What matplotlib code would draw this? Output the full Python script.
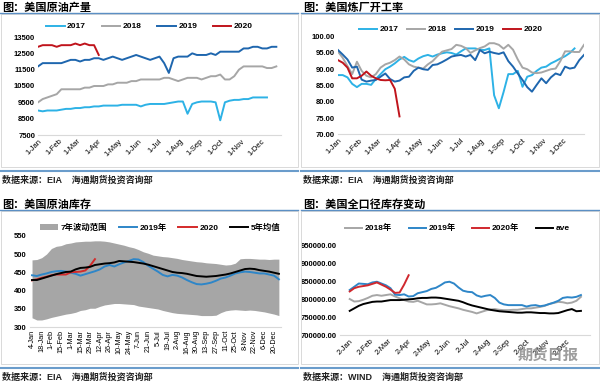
import numpy as np
import matplotlib
matplotlib.use("Agg")
import matplotlib.pyplot as plt
from matplotlib.patches import Rectangle
from matplotlib.lines import Line2D

plt.rcParams['font.family'] = ['Liberation Sans', 'Noto Sans CJK SC']

#%% data
# panel 1: US crude production (kb/d), weekly
prod_2017 = [9000, 8950, 9000, 9000, 9000, 9050, 9100, 9100, 9150, 9150, 9200, 9200, 9250, 9250,
             9300, 9300, 9300, 9300, 9350, 9350, 9350, 9350, 9250, 9350, 9400, 9400, 9400, 9400,
             9450, 9500, 9550, 9550, 8800, 9400, 9500, 9550, 9550, 9550, 9500, 8400, 9500, 9600,
             9650, 9650, 9700, 9700, 9800, 9800, 9800, 9800]
prod_2018 = [9500, 9700, 9800, 9900, 10000, 10300, 10300, 10300, 10300, 10300, 10400, 10400, 10500,
             10500, 10500, 10600, 10600, 10700, 10700, 10700, 10800, 10800, 10900, 10900, 10900,
             10900, 10900, 11000, 11000, 10900, 10800, 10900, 11000, 11000, 11000, 10900, 11000,
             11100, 11100, 11200, 10900, 10900, 11100, 11500, 11700, 11700, 11700, 11700, 11700,
             11600, 11600, 11700]
prod_2019 = [11700, 11900, 11900, 11900, 11900, 11900, 12000, 12100, 12100, 12000, 12100, 12100,
             12200, 12200, 12100, 12200, 12300, 12200, 12100, 12200, 12300, 12400, 12300, 12200,
             12100, 12200, 12300, 11900, 11300, 12200, 12300, 12300, 12300, 12500, 12400, 12400,
             12400, 12500, 12400, 12600, 12600, 12600, 12600, 12600, 12800, 12800, 12900, 12900,
             12800, 12800, 12900, 12900]
prod_2020 = [12900, 13000, 13000, 13000, 12900, 13000, 13000, 13000, 13100, 13000, 13100, 13000,
             13000, 12400]

# panel 2: refinery utilisation (%), weekly
ref_2017 = [88.2, 88.2, 87.5, 85.5, 84.5, 85.5, 85.5, 85.2, 87.0, 88.5, 90.0, 90.8, 91.8, 93.0,
            93.8, 92.8, 92.3, 93.3, 94.0, 94.4, 93.9, 94.5, 94.9, 95.2, 95.0, 94.5, 95.5, 96.4,
            96.4, 96.4, 96.0, 95.9, 96.4, 82.0, 78.0, 83.0, 88.5, 88.5, 89.5, 84.6, 87.7, 88.2,
            89.5, 90.5, 90.8, 91.8, 92.5, 93.3, 94.0, 95.0, 96.4]
ref_2018 = [95.4, 93.5, 91.0, 88.5, 92.3, 89.5, 88.0, 87.5, 88.5, 90.5, 91.5, 92.0, 92.8, 93.9,
            93.0, 91.5, 90.8, 90.5, 90.2, 91.5, 92.5, 94.0, 95.4, 95.8, 96.2, 97.5, 97.2, 96.5,
            95.0, 95.8, 96.5, 97.0, 98.0, 98.0, 97.5, 96.3, 97.5, 96.0, 93.0, 90.5, 90.0, 89.0,
            88.8, 89.0, 89.5, 90.0, 90.2, 92.5, 95.5, 95.5, 95.3, 95.3, 97.5]
ref_2019 = [95.9, 94.5, 93.0, 90.5, 90.8, 86.8, 86.2, 86.5, 86.7, 87.7, 88.7, 87.0, 86.2, 86.5,
            87.5, 87.7, 89.5, 90.5, 90.0, 89.8, 91.3, 91.5, 92.2, 93.0, 93.9, 94.2, 94.4, 93.9,
            94.4, 92.8, 95.9, 94.9, 95.4, 95.0, 94.7, 95.2, 92.5, 90.8, 88.7, 86.7, 84.5, 83.1,
            85.2, 87.2, 85.7, 87.5, 88.7, 88.2, 90.8, 90.2, 90.5, 92.8, 94.4]
ref_2020 = [92.8, 92.0, 90.5, 87.2, 87.2, 88.0, 89.3, 88.0, 87.2, 86.7, 86.6, 86.7, 84.0, 75.5]

# panel 3: US crude stocks (mb), weekly
inv_labels = ['4-Jan', '18-Jan', '1-Feb', '15-Feb', '1-Mar', '15-Mar', '29-Mar', '12-Apr',
              '26-Apr', '10-May', '24-May', '7-Jun', '21-Jun', '5-Jul', '19-Jul', '2-Aug',
              '16-Aug', '30-Aug', '13-Sep', '27-Sep', '11-Oct', '25-Oct', '8-Nov', '22-Nov',
              '6-Dec', '20-Dec']
band_hi = [484, 485, 490, 500, 515, 521, 523, 528, 530, 533, 534, 535, 535, 536, 536, 535, 533,
           530, 527, 524, 520, 517, 512, 506, 502, 497, 495, 493, 492, 490, 488, 485, 483, 481,
           479, 478, 476, 475, 474, 472, 470, 471, 475, 487, 488, 488, 487, 486, 486, 485, 486, 486]
band_lo = [326, 320, 320, 323, 327, 330, 333, 336, 338, 341, 346, 348, 352, 352, 357, 361, 363,
           365, 365, 364, 363, 362, 358, 356, 354, 352, 350, 346, 343, 340, 338, 337, 336, 335,
           334, 332, 332, 332, 333, 340, 345, 347, 348, 347, 346, 347, 346, 344, 342, 339, 336, 332]
inv_avg5 = [429, 429, 433, 437, 441, 445, 448, 451, 452, 458, 462, 463, 465, 470, 472, 474, 475,
            477, 481, 480, 479, 478, 476, 474, 471, 467, 463, 459, 455, 451, 449, 448, 446, 443,
            440, 439, 438, 439, 440, 442, 444, 447, 451, 455, 459, 460, 459, 456, 454, 452, 449, 446]
inv_2019 = [442, 440, 444, 447, 451, 453, 454, 452, 449, 446, 441, 445, 449, 453, 458, 466, 470,
            466, 472, 477, 481, 486, 485, 478, 468, 460, 452, 443, 439, 443, 441, 436, 429, 423,
            418, 417, 419, 422, 427, 433, 436, 441, 447, 450, 452, 451, 449, 447, 447, 444, 441, 431]
inv_2020 = [428, 431, 435, 438, 442, 444, 444, 444, 450, 451, 452, 455, 468, 486]

# panel 4: total US stocks, weekly
tot_2018 = [800000, 793000, 794000, 798000, 803000, 809000, 811000, 809000, 811000, 813000, 807000,
            802000, 797000, 793000, 792000, 795000, 790000, 785000, 785000, 786000, 788000, 784000,
            780000, 777000, 774000, 770000, 767000, 764000, 760000, 764000, 768000, 771000, 772000,
            770000, 769000, 769000, 770000, 770000, 772000, 774000, 774000, 776000, 778000, 781000,
            786000, 789000, 792000, 791000, 788000, 790000, 795000, 806000]
tot_2019 = [825000, 834000, 843000, 842000, 841000, 846000, 848000, 843000, 838000, 830000, 812000,
            811000, 813000, 807000, 808000, 816000, 819000, 822000, 828000, 831000, 838000, 846000,
            848000, 843000, 832000, 823000, 820000, 819000, 810000, 806000, 809000, 811000, 803000,
            790000, 785000, 783000, 783000, 783000, 783000, 779000, 782000, 783000, 780000, 782000,
            786000, 790000, 795000, 803000, 805000, 804000, 806000, 811000]
tot_2020 = [821000, 830000, 834000, 836000, 838000, 842000, 846000, 840000, 834000, 826000, 817000,
            818000, 840000, 866000]
tot_ave = [767000, 774000, 781000, 786000, 789000, 792000, 793000, 793000, 795000, 797000, 797000,
           797000, 798000, 799000, 800000, 802000, 803000, 803000, 804000, 804000, 803000, 801000,
           799000, 797000, 795000, 791000, 786000, 782000, 779000, 776000, 773000, 770000, 768000,
           766000, 765000, 764000, 763000, 762000, 762000, 763000, 763000, 762000, 761000, 761000,
           760000, 760000, 761000, 765000, 769000, 772000, 766000, 767000]

months = ['Jan', 'Feb', 'Mar', 'Apr', 'May', 'Jun', 'Jul', 'Aug', 'Sep', 'Oct', 'Nov', 'Dec']
month_start = [0, 31, 59, 90, 120, 151, 181, 212, 243, 273, 304, 334]

#%% helpers
W, H = 600, 386
DY = 197  # lower row sits this many pixels below the upper row
fig = plt.figure(figsize=(6, 3.86), dpi=100)


def box(l, t, r, b):
    return [l / W, 1 - b / H, (r - l) / W, (b - t) / H]


def week_days(vals, start=0):
    return start + 7 * np.arange(len(vals))


def frame(x0, dy, title, source):
    # title, blue rule, grey frame, bottom blue rule, source text
    fig.text((x0 + 2) / W, 1 - (7.5 + dy) / H, title, fontsize=8, fontweight='bold',
             va='center', ha='left')
    fig.add_artist(Line2D([x0 / W, (x0 + 298) / W], [1 - (13 + dy) / H] * 2,
                          color='#5B8FC4', lw=1.0))
    fig.add_artist(Rectangle(((x0 + 0.5) / W, 1 - (167 + dy) / H), 297 / W, 153 / H,
                             fill=False, ec='#D9D9D9', lw=0.7))
    fig.add_artist(Line2D([x0 / W, (x0 + 298) / W], [1 - (171 + dy) / H] * 2,
                          color='#6A9CCB', lw=1.5))
    fig.text((x0 + 2) / W, 1 - (180 + dy) / H, source, fontsize=6.5, fontweight='bold',
             va='center', ha='left', color='#222222')


def style(ax, ylim, yticks, fmt):
    ax.set_ylim(*ylim)
    ax.set_yticks(yticks)
    ax.set_yticklabels([fmt.format(v) for v in yticks], fontsize=5.5, fontweight='bold')
    for s in ['top', 'right', 'left']:
        ax.spines[s].set_visible(False)
    ax.spines['bottom'].set_color('#D9D9D9')
    ax.tick_params(axis='both', length=0, pad=2)
    ax.patch.set_alpha(0)


def legend(ax, cx, cy, spacing, hl=2.2):
    ax.legend(frameon=False, ncol=4, handlelength=hl, handletextpad=0.3, columnspacing=spacing,
              prop={'size': 6, 'weight': 'bold'}, borderaxespad=0, borderpad=0, loc='center',
              bbox_to_anchor=(cx / W, 1 - cy / H), bbox_transform=fig.transFigure)


frame(0, 0, '图：美国原油产量', '数据来源：EIA    海通期货投资咨询部')
frame(301, 0, '图：美国炼厂开工率', '数据来源：EIA    海通期货投资咨询部')
frame(0, DY, '图：美国原油库存', '数据来源：EIA    海通期货投资咨询部')
frame(301, DY, '图：美国全口径库存变动', '数据来源：WIND    海通期货投资咨询部')

LW = 1.4

#%% panel 1
ax1 = fig.add_axes(box(38, 37, 281, 135))
ax1.plot(week_days(prod_2017), prod_2017, color='#2DB2E6', lw=LW, label='2017')
ax1.plot(week_days(prod_2018), prod_2018, color='#A6A6A6', lw=LW, label='2018')
ax1.plot(week_days(prod_2019), prod_2019, color='#1E66AE', lw=LW, label='2019')
ax1.plot(week_days(prod_2020), prod_2020, color='#C0141C', lw=LW, label='2020')
style(ax1, (7500, 13500), np.arange(7500, 13501, 1000), '{:d}')
ax1.set_xlim(0, 364)
ax1.set_xticks(month_start)
ax1.set_xticklabels(['1-' + m for m in months], rotation=45, ha='right', rotation_mode='anchor',
                    fontsize=5.5)
legend(ax1, 149.5, 26.5, 1.9)

#%% panel 2
ax2 = fig.add_axes(box(338, 36.7, 584, 134.3))
ax2.plot(week_days(ref_2017), ref_2017, color='#2DB2E6', lw=LW, label='2017')
ax2.plot(week_days(ref_2018), ref_2018, color='#A6A6A6', lw=LW, label='2018')
ax2.plot(week_days(ref_2019), ref_2019, color='#1E66AE', lw=LW, label='2019')
ax2.plot(week_days(ref_2020), ref_2020, color='#C0141C', lw=LW, label='2020')
style(ax2, (70, 100), np.arange(70, 101, 5), '{:.2f}')
ax2.set_xlim(0, 364)
ax2.set_xticks(month_start)
ax2.set_xticklabels(['1-' + m for m in months], rotation=45, ha='right', rotation_mode='anchor',
                    fontsize=5.5)
legend(ax2, 450.5, 29.5, 1.0)

#%% panel 3
ax3 = fig.add_axes(box(29.6, 235.7, 281.3, 327.3))
wk = np.arange(len(band_hi))
ax3.fill_between(wk, band_lo, band_hi, color='#A6A6A6', lw=0, label='7年波动范围')
ax3.plot(np.arange(len(inv_2019)), inv_2019, color='#2E86C8', lw=LW, label='2019年')
ax3.plot(np.arange(len(inv_2020)), inv_2020, color='#D42A2A', lw=LW, label='2020')
ax3.plot(np.arange(len(inv_avg5)), inv_avg5, color='black', lw=LW, label='5年均值')
style(ax3, (300, 550), np.arange(300, 551, 50), '{:d}')
ax3.set_xlim(-0.5, 51.5)
ax3.set_xticks(np.arange(0, 52, 2))
ax3.set_xticklabels(inv_labels, rotation=90, fontsize=5.2)
legend(ax3, 160, 227.5, 1.4)

#%% panel 4
ax4 = fig.add_axes(box(340, 245, 590, 335))
ax4.plot(week_days(tot_2018, 1), tot_2018, color='#A6A6A6', lw=LW, label='2018年')
ax4.plot(week_days(tot_2019, 1), tot_2019, color='#2E86C8', lw=LW, label='2019年')
ax4.plot(week_days(tot_2020, 1), tot_2020, color='#D0282E', lw=LW, label='2020年')
ax4.plot(week_days(tot_ave, 1), tot_ave, color='black', lw=LW, label='ave')
style(ax4, (700000, 950000), np.arange(700000, 950001, 50000), '{:.2f}')
ax4.set_xlim(-14, 372)
ax4.set_xticks([d + 1 for d in month_start])
ax4.set_xticklabels(['2-' + m for m in months], rotation=45, ha='right', rotation_mode='anchor',
                    fontsize=5.5)
legend(ax4, 457.5, 228.5, 2.0, hl=2.05)

# watermark
fig.text(548 / W, 1 - 356 / H, '期货日报', fontsize=11, fontweight='bold', color='#8C8C8C',
         va='center', ha='center', alpha=0.85)

fig.savefig('out.png', dpi=100)
